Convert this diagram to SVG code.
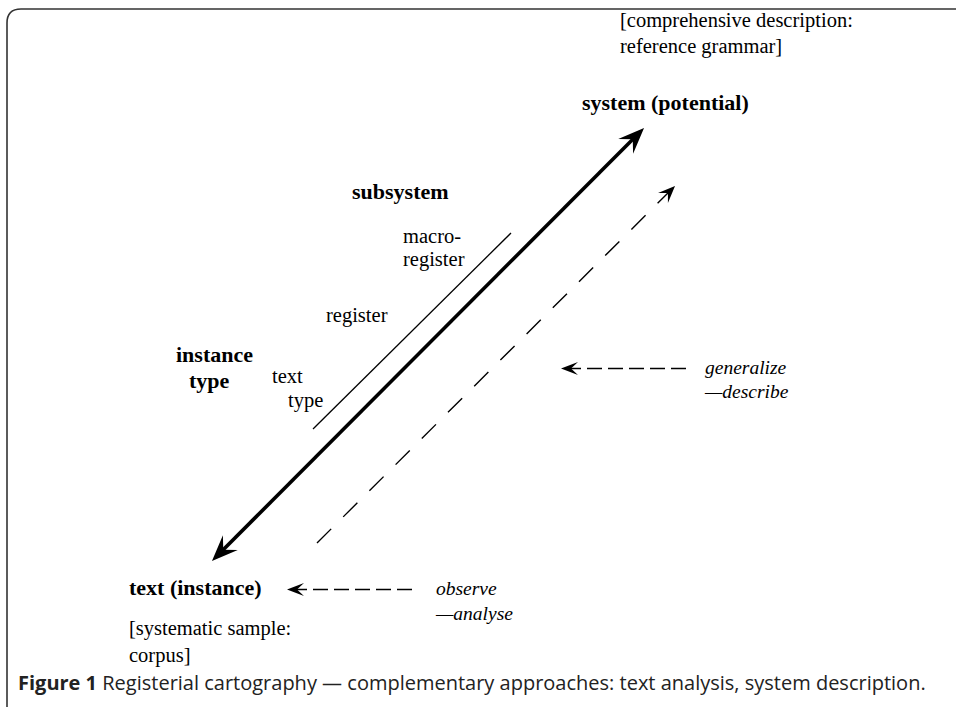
<svg xmlns="http://www.w3.org/2000/svg" width="956" height="707" viewBox="0 0 956 707">
  <style>
    .t { font-family: "Liberation Serif", "DejaVu Serif", serif; font-size: 20.5px; fill: #000; }
    .b { font-weight: bold; font-size: 22px; }
    .i { font-style: italic; font-size: 19.5px; }
    .cap { font-family: "Open Sans", "Liberation Sans", sans-serif; font-size: 20px; fill: #222; }
    .solid { stroke: #000; fill: none; }
    .dash { stroke: #000; fill: none; stroke-width: 1.4; }
  </style>
  <defs>
    <marker id="headBig" markerUnits="userSpaceOnUse" orient="auto-start-reverse" refX="-6" refY="0" markerWidth="30" markerHeight="30" overflow="visible">
      <path d="M0,0 L-26,-10.5 L-16,0 L-26,10.5 Z" fill="#000"/>
    </marker>
    <marker id="headMid" markerUnits="userSpaceOnUse" orient="auto" refX="-2" refY="0" markerWidth="20" markerHeight="20" overflow="visible">
      <path d="M0,0 L-17,-7 L-10,0 L-17,7 Z" fill="#000"/>
    </marker>
    <marker id="headSmall" markerUnits="userSpaceOnUse" orient="auto" refX="-2" refY="0" markerWidth="20" markerHeight="20" overflow="visible">
      <path d="M0,0 L-17,-6.5 L-10,0 L-17,6.5 Z" fill="#000"/>
    </marker>
  </defs>

  <rect width="956" height="707" fill="#fff"/>

  <!-- panel frame: top and left edges joined by a rounded corner -->
  <path d="M7,707 L7,23 Q7,9 21,9 L956,9" fill="none" stroke="#333" stroke-width="1.6"/>

  <g id="connectors">
    <!-- text <-> system axis -->
    <line class="solid" x1="216.2" y1="556.8" x2="639.8" y2="132.2" stroke-width="3.6" marker-start="url(#headBig)" marker-end="url(#headBig)"/>
    <!-- register scale -->
    <line class="solid" x1="313" y1="429" x2="511" y2="233" stroke-width="1.3"/>
    <!-- analysis direction -->
    <line class="dash" x1="317" y1="543" x2="673.6" y2="187.4" stroke-dasharray="20 17" marker-end="url(#headMid)"/>
    <!-- observe / analyse -->
    <line class="dash" x1="412" y1="589.5" x2="289" y2="589.5" stroke-dasharray="15 6" marker-end="url(#headSmall)"/>
    <!-- generalize / describe -->
    <line class="dash" x1="686" y1="368.5" x2="563" y2="368.5" stroke-dasharray="15 6" marker-end="url(#headSmall)"/>
  </g>

  <g id="system-note">
    <text class="t" x="620" y="27">[comprehensive description:</text>
    <text class="t" x="620" y="53">reference grammar]</text>
  </g>
  <g id="system">
    <text class="t b" x="582" y="110">system (potential)</text>
  </g>
  <g id="subsystem">
    <text class="t b" x="352" y="199">subsystem</text>
  </g>
  <g id="macro-register">
    <text class="t" x="403" y="243">macro-</text>
    <text class="t" x="403" y="266">register</text>
  </g>
  <g id="register">
    <text class="t" x="326" y="322">register</text>
  </g>
  <g id="instance-type">
    <text class="t b" x="176" y="362">instance</text>
    <text class="t b" x="189" y="388">type</text>
  </g>
  <g id="text-type">
    <text class="t" x="272" y="383">text</text>
    <text class="t" x="288" y="407">type</text>
  </g>
  <g id="generalize">
    <text class="t i" x="705" y="374">generalize</text>
    <text class="t i" x="705" y="398">—describe</text>
  </g>
  <g id="text-instance">
    <text class="t b" x="129" y="595">text (instance)</text>
  </g>
  <g id="corpus-note">
    <text class="t" x="129" y="635">[systematic sample:</text>
    <text class="t" x="129" y="662">corpus]</text>
  </g>
  <g id="observe">
    <text class="t i" x="436" y="595">observe</text>
    <text class="t i" x="436" y="620">—analyse</text>
  </g>

  <text class="cap" x="18" y="690"><tspan font-weight="bold">Figure 1</tspan> Registerial cartography — complementary approaches: text analysis, system description.</text>
</svg>
